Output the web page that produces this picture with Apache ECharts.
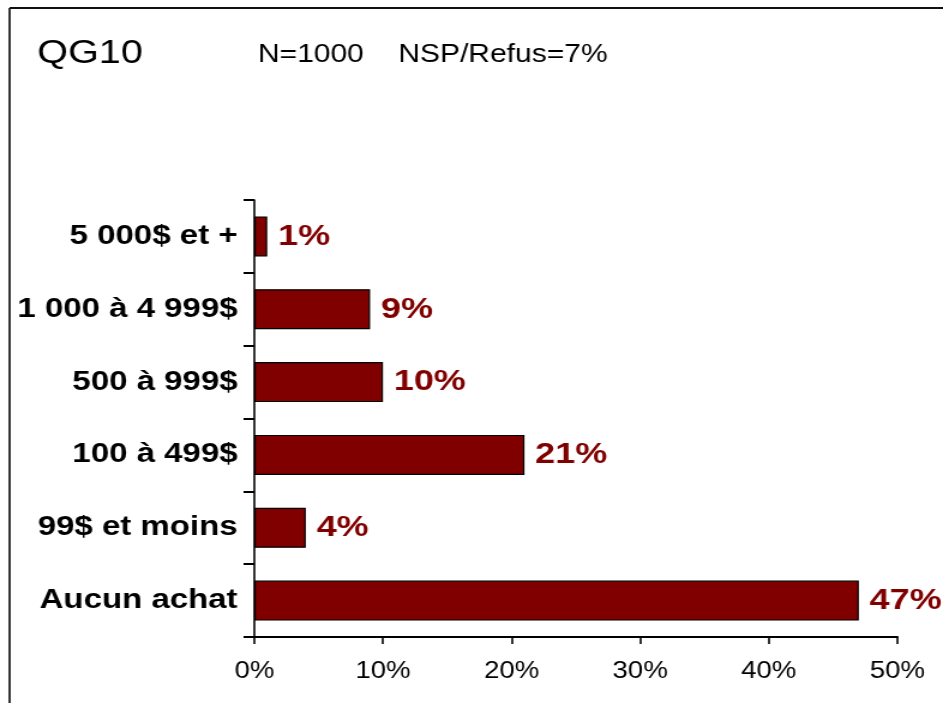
<!DOCTYPE html>
<html>
<head>
<meta charset="utf-8">
<script src="https://cdn.jsdelivr.net/npm/echarts@6/dist/echarts.min.js"></script>
<style>
  html, body { margin: 0; padding: 0; background: #fff; overflow: hidden; }
  #wrap { position: absolute; left: 0; top: 0; width: 943px; height: 703px; overflow: hidden; }
  /* the chart is laid out narrower and widened horizontally, like the original slide */
  #chart { position: absolute; left: 0; top: 0; width: 786px; height: 703px;
           transform: scaleX(1.19975); transform-origin: 0 0; }
</style>
</head>
<body>
<div id="wrap"><div id="chart"></div></div>
<script>
// Amount spent (QG10), listed bottom to top as drawn on the category axis
const categories = ['Aucun achat', '99$ et moins', '100 à 499$', '500 à 999$', '1 000 à 4 999$', '5 000$ et +'];
const percents = [47, 4, 21, 10, 9, 1];
const xTicks = [0, 10, 20, 30, 40, 50];

const questionId = 'QG10';
const sampleNote = 'N=1000';
const refusalNote = 'NSP/Refus=7%';

const FONT = "'Liberation Sans', Arial, sans-serif";
const chart = echarts.init(document.getElementById('chart'), null, { renderer: 'canvas' });

chart.setOption({
  animation: false,
  backgroundColor: '#fff',
  grid: { left: 212, right: 38, top: 200, bottom: 66, containLabel: false },
  xAxis: {
    type: 'value',
    min: xTicks[0],
    max: xTicks[xTicks.length - 1],
    interval: xTicks[1] - xTicks[0],
    axisLine: { show: true, lineStyle: { color: '#000', width: 2 } },
    axisTick: { show: true, inside: false, length: 7, lineStyle: { color: '#000', width: 1.6 } },
    axisLabel: { color: '#000', fontFamily: FONT, fontSize: 23, margin: 23,
                 formatter: v => v + '%' },
    splitLine: { show: false }
  },
  yAxis: {
    type: 'category',
    data: categories,
    axisLine: { show: true, lineStyle: { color: '#000', width: 1.6 } },
    axisTick: { show: true, length: 9, alignWithLabel: false, lineStyle: { color: '#000', width: 2 } },
    axisLabel: { color: '#000', fontFamily: FONT, fontSize: 27.5, fontWeight: 'bold', margin: 14,
                 padding: [7, 0, 0, 0] }
  },
  series: [{
    type: 'bar',
    data: percents,
    barWidth: 40,
    itemStyle: { color: '#800000', borderColor: '#000', borderWidth: 1.2 },
    label: {
      show: true,
      position: 'right',
      distance: 9,
      color: '#800000',
      fontFamily: FONT,
      fontSize: 30,
      fontWeight: 'bold',
      padding: [6, 0, 0, 0],
      formatter: p => p.value + '%'
    }
  }],
  graphic: [
    { type: 'line', shape: { x1: 8, y1: 8, x2: 790, y2: 8 },
      style: { stroke: '#111', lineWidth: 2.2 } },
    { type: 'line', shape: { x1: 8, y1: 8, x2: 8, y2: 710 },
      style: { stroke: '#111', lineWidth: 1.7 } },
    { type: 'text', left: 31, top: 37,
      style: { text: questionId, font: '33px ' + FONT, fill: '#000' } },
    { type: 'text', left: 215, top: 43,
      style: { text: sampleNote, font: '25px ' + FONT, fill: '#000' } },
    { type: 'text', left: 332, top: 43,
      style: { text: refusalNote, font: '25px ' + FONT, fill: '#000' } }
  ]
});
</script>
</body>
</html>
